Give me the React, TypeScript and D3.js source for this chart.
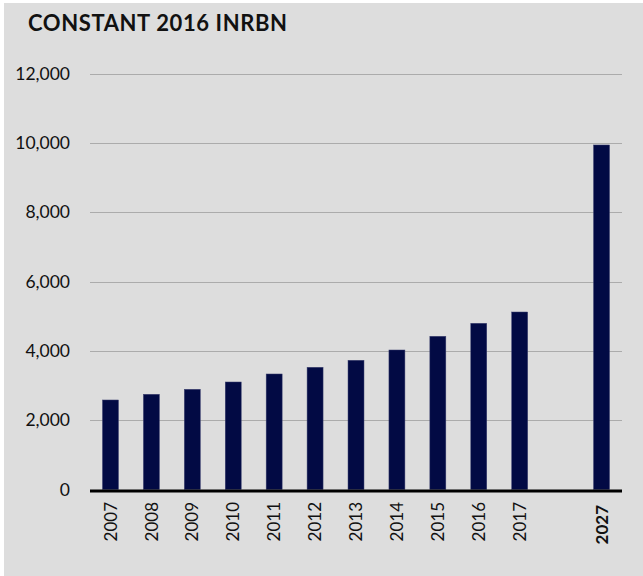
import React from "react";
import * as d3 from "d3";

const categories = ["2007","2008","2009","2010","2011","2012","2013","2014","2015","2016","2017","","2027"];
const values = [2582, 2746, 2890, 3101, 3332, 3525, 3727, 4024, 4419, 4794, 5120, null, 9938];
const yTicks = [0, 2000, 4000, 6000, 8000, 10000, 12000];
const title = "CONSTANT 2016 INRBN";
const boldCategory = "2027";

const W = 643, H = 576;
const left = 90, right = 622, top = 73.5, bottom = 489.5;

export default function App() {
  const keys = categories.map((c, i) => c || "gap" + i);
  const x = d3.scaleBand<string>().domain(keys).range([left, right]).paddingInner(0.61).paddingOuter(0.305);
  const y = d3.scaleLinear().domain([0, 12000]).range([bottom, top]);
  const fmt = d3.format(",");
  const font = "Lato, 'Open Sans', sans-serif";
  return (
    <svg width={W} height={H} style={{ position: "absolute", left: 0, top: 0 }} fontFamily={font}>
      <rect x={4} y={3} width={W - 4} height={H - 3} fill="#dddddd" />
      <text x={28} y={31} fontSize={22} fontWeight={700} letterSpacing={0.6} fill="#111">{title}</text>
      {yTicks.map(t => (
        <g key={t}>
          {t > 0 && <line x1={left} x2={right} y1={Math.round(y(t)) + 0.5} y2={Math.round(y(t)) + 0.5} stroke="#ababab" strokeWidth={1} />}
          <text x={70} y={y(t)} dy="0.36em" textAnchor="end" fontSize={17.5} fill="#111">{fmt(t)}</text>
        </g>
      ))}
      {values.map((v, i) => v == null ? null : (
        <rect key={i} x={x(keys[i])!} y={y(v)} width={x.bandwidth()} height={bottom - y(v)} fill="#020a44" stroke="#3a3f6e" strokeWidth={0.5} />
      ))}
      <line x1={left} x2={right} y1={bottom + 1.5} y2={bottom + 1.5} stroke="#000" strokeWidth={3} />
      {categories.map((c, i) => c ? (
        <text key={c} transform={`translate(${x(keys[i])! + x.bandwidth() / 2},${c === boldCategory ? 505 : 502}) rotate(-90)`} textAnchor="end" dy="0.36em" fontSize={17} fontWeight={c === boldCategory ? 700 : 400} fill="#111">{c}</text>
      ) : null)}
    </svg>
  );
}
